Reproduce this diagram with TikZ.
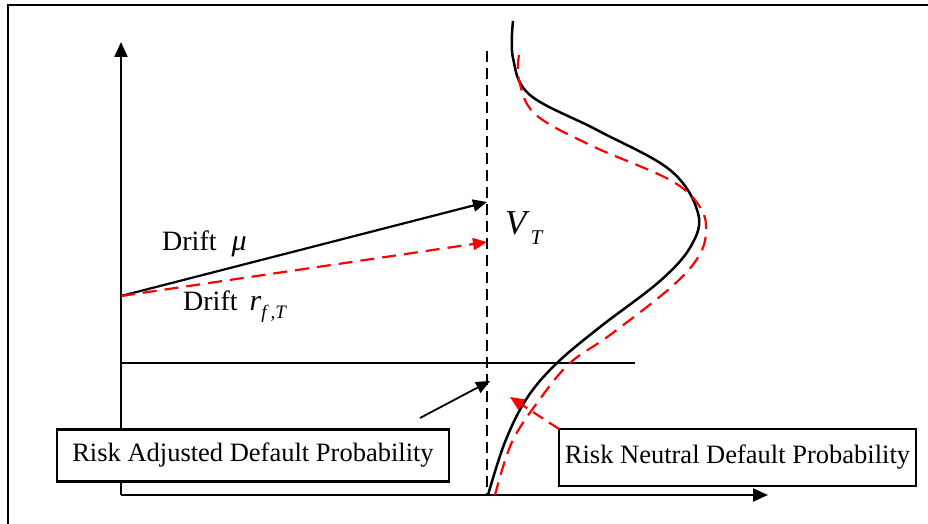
\documentclass[tikz,border=0pt]{standalone}
\usepackage{fontspec}
\setmainfont{Liberation Serif}
\usetikzlibrary{arrows.meta}
\begin{document}
\begin{tikzpicture}[x=1pt,y=-1pt,
  axis/.style={line width=2.2pt,-{Triangle[length=15pt,width=13pt]}},
  blk/.style={line width=2.2pt},
  reddash/.style={red,line width=2.2pt,dash pattern=on 14pt off 8pt},
  vdash/.style={line width=2pt,dash pattern=on 11pt off 6pt},
  tip/.style={-{Triangle[length=14pt,width=12pt]}},
  probbox/.style={draw,fill=white,line width=2.2pt,inner sep=0pt,font=\fontsize{26.5}{30}\selectfont},
  lbl/.style={inner sep=0pt,font=\fontsize{28}{32}\selectfont}]
\useasboundingbox (0,0) rectangle (928,524);
% frame
\draw[line width=2.4pt] (8,524) -- (8,5) -- (928,5);
% named points
\coordinate (O) at (121,495);
\coordinate (ytip) at (121,42);
\coordinate (xtip) at (768,495);
\coordinate (start) at (121,296);
\coordinate (mutip) at (487,202);
\coordinate (rftip) at (487,242);
\coordinate (vtop) at (487,51);
\coordinate (vbot) at (487,495);
\coordinate (bl) at (121,363);
\coordinate (br) at (635,363);
\coordinate (aa) at (420,418);
\coordinate (ab) at (490,381);
\coordinate (ra) at (559,429);
\coordinate (rb) at (510,397);
% axes
\draw[axis] (O) -- (ytip);
\draw[axis] (O) -- (xtip);
% barrier
\draw[line width=1.5pt] (bl) -- (br);
% dashed vertical
\draw[vdash] (vtop) -- (vbot);
% drift arrows
\draw[blk,tip] (start) -- (mutip);
\draw[reddash,tip] (start) -- (rftip);
% densities
\draw[line width=2.5pt,line join=round] plot[smooth,tension=0.6] coordinates {(513,21) (513,58) (530,95) (597,130) (670,170) (698,213) (691,246) (660,281) (600,327) (557,363) (527,398) (505,442) (488,495)};
\draw[reddash] plot[smooth,tension=0.6] coordinates {(519,55) (519,80) (535,114) (590,145) (670,180) (700,207) (706,233) (697,259) (669,289) (610,335) (570,363) (540,399) (512,442) (495,495)};
% labels
\node[lbl,anchor=base west] (dmu) at (162,250) {Drift\hspace{15pt}{\fontsize{30}{32}\selectfont\itshape μ}};
\node[lbl,anchor=base west] (drf) at (183,310) {Drift\hspace{12pt}{\fontsize{30}{32}\selectfont\itshape r}\raisebox{-8pt}{\fontsize{19}{19}\selectfont\itshape f\hspace{4pt},T}};
\node[inner sep=0pt,anchor=base west,font=\fontsize{35}{38}\selectfont\itshape] (vt) at (505,234) {V\hspace{4pt}\raisebox{-10pt}{\fontsize{21}{21}\selectfont T}};
% boxes
\node[probbox,minimum width=392pt,minimum height=52pt] (adj) at (253,455.5) {Risk Adjusted Default Probability};
\node[probbox,minimum width=357pt,minimum height=57pt] (neu) at (737.5,457.5) {Risk Neutral Default Probability};
% pointer arrows
\draw[line width=1.8pt,tip] (aa) -- (ab);
\draw[reddash,dash pattern=on 12pt off 7pt,tip] (ra) -- (rb);
\end{tikzpicture}
\end{document}
